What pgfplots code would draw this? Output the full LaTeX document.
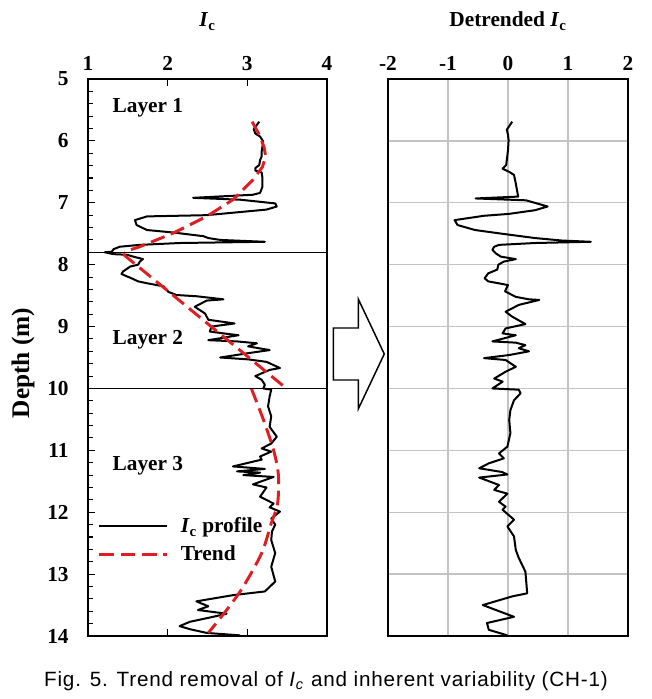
\documentclass[border=0pt]{standalone}
\usepackage{pgfplots}
\pgfplotsset{compat=1.18}
\usepackage{fontspec}
\setmainfont{Liberation Serif}
\newfontfamily\capfont[LetterSpace=4]{Liberation Sans}
\definecolor{trendred}{RGB}{222,30,35}
\definecolor{gridgray}{RGB}{195,195,195}
\newcommand\f{\fontsize{16pt}{19pt}\selectfont\bfseries}
\begin{document}
\begin{tikzpicture}
\useasboundingbox (0,0) rectangle (489pt,524.25pt);
\begin{axis}[
  name=left,
  at={(66pt,47.25pt)}, anchor=south west,
  scale only axis, width=179.25pt, height=417.75pt,
  xmin=1, xmax=4, ymin=5, ymax=14, y dir=reverse,
  xtick={1,2,3,4}, ytick={5,6,...,14},
  minor y tick num=4,
  xticklabel pos=upper, ytick pos=left,
  tick align=inside,
  major tick length=5pt, minor tick length=4pt,
  axis line style={line width=0.9pt},
  every tick/.style={black, line width=0.8pt},
  tick label style={font=\f},
  /pgf/number format/assume math mode=true,
  xticklabel style={yshift=3pt},
  yticklabel style={xshift=-11pt},
  legend style={at={(0.04,0.172)}, anchor=west, draw=none, fill=none, font=\f, row sep=4pt, inner sep=0pt,
    /tikz/every odd column/.append style={column sep=7pt}},
  legend cell align=left,
  legend image code/.code={\draw[#1] (0pt,0pt) -- (51pt,0pt);},
]
\addplot[black, line width=1.5pt, line join=round] coordinates {
(3.15,5.69) (3.12,5.74) (3.08,5.81) (3.10,5.88) (3.16,5.93) (3.20,6.01) (3.19,6.09) (3.18,6.17) (3.18,6.25) (3.16,6.31) (3.15,6.39) (3.10,6.44) (3.10,6.48) (3.18,6.51) (3.19,6.60) (3.19,6.74) (3.16,6.84) (3.07,6.87) (2.32,6.92) (2.91,6.95) (3.35,7.01) (3.37,7.06) (3.24,7.11) (2.49,7.20) (1.74,7.22) (1.59,7.28) (1.61,7.36) (1.74,7.44) (2.07,7.48) (2.45,7.54) (2.51,7.57) (2.66,7.60) (3.22,7.63) (2.15,7.65) (1.65,7.68) (1.40,7.71) (1.32,7.75) (1.30,7.79) (1.21,7.80) (1.32,7.83) (1.49,7.84) (1.57,7.87) (1.69,7.91) (1.65,7.95) (1.63,8.00) (1.53,8.03) (1.44,8.11) (1.42,8.15) (1.49,8.19) (1.53,8.21) (1.63,8.27) (1.74,8.30) (1.95,8.35) (2.01,8.44) (2.11,8.49) (2.36,8.51) (2.70,8.56) (2.49,8.58) (2.34,8.68) (2.47,8.79) (2.51,8.89) (2.84,8.95) (2.55,9.00) (2.53,9.08) (2.70,9.11) (2.89,9.14) (2.51,9.22) (2.87,9.24) (3.12,9.27) (3.01,9.32) (3.28,9.38) (3.01,9.43) (2.66,9.50) (3.01,9.53) (3.24,9.57) (3.41,9.67) (3.28,9.70) (3.10,9.80) (3.18,9.86) (3.22,9.94) (3.20,10.00) (3.30,10.02) (3.28,10.13) (3.26,10.29) (3.30,10.45) (3.28,10.62) (3.37,10.78) (3.30,10.89) (3.18,10.97) (3.30,11.02) (3.16,11.10) (3.18,11.15) (2.82,11.26) (3.22,11.30) (2.87,11.34) (3.16,11.36) (2.95,11.40) (3.33,11.43) (3.07,11.55) (3.24,11.60) (3.16,11.75) (3.33,11.86) (3.28,11.92) (3.41,11.99) (3.30,12.10) (3.35,12.20) (3.31,12.31) (3.30,12.45) (3.35,12.66) (3.30,12.88) (3.35,13.12) (3.22,13.28) (2.82,13.34) (2.36,13.44) (2.51,13.52) (2.38,13.58) (2.74,13.64) (2.57,13.69) (2.28,13.77) (2.15,13.84) (2.28,13.89) (2.49,13.95) (2.91,13.99)
};
\addlegendentry{\textit{I}\textsubscript{c} profile}
\addplot[trendred, line width=2.2pt, dash pattern=on 11pt off 5pt] coordinates {
(3.06,5.69) (3.15,5.90) (3.21,6.10) (3.23,6.25) (3.19,6.42) (3.07,6.63) (2.82,6.95) (2.49,7.22) (2.07,7.49) (1.65,7.71) (1.46,7.79)
};
\addlegendentry{Trend}
\addplot[trendred, line width=2.2pt, dash pattern=on 11pt off 5pt, forget plot] coordinates {
(1.44,7.83) (2.14,8.57) (3.49,10.0)
};
\addplot[trendred, line width=2.2pt, dash pattern=on 11pt off 5pt, forget plot, smooth] coordinates {
(3.05,10.0) (3.20,10.5) (3.33,11.0) (3.39,11.4) (3.38,11.86) (3.30,12.18) (3.18,12.66) (2.95,13.20) (2.74,13.58) (2.51,13.95)
};
\addplot[black, line width=0.8pt, forget plot] coordinates {(1,7.8) (4,7.8)};
\addplot[black, line width=0.8pt, forget plot] coordinates {(1,10.0) (4,10.0)};
\node[font=\f, anchor=base west] at (axis cs:1.25,5.545) {Layer 1};
\node[font=\f, anchor=base west] at (axis cs:1.25,9.286) {Layer 2};
\node[font=\f, anchor=base west] at (axis cs:1.25,11.33) {Layer 3};
\end{axis}
\begin{axis}[
  at={(291pt,47.25pt)}, anchor=south west,
  scale only axis, width=180pt, height=417.75pt,
  xmin=-2, xmax=2, ymin=5, ymax=14, y dir=reverse,
  xtick={-2,-1,0,1,2}, xticklabels={-2,-1,0,1,2},
  ytick={5,6,...,14}, yticklabels={},
  xticklabel pos=upper,
  major tick length=0pt,
  grid=major,
  grid style={gridgray, line width=1pt},
  axis line style={line width=0.9pt},
  tick label style={font=\f},
  xticklabel style={yshift=3pt},
]
\addplot[black, line width=1.5pt, line join=round] coordinates {
(0.07,5.69) (-0.02,5.82) (0.00,5.90) (0.01,5.99) (0.00,6.15) (-0.02,6.31) (-0.03,6.39) (-0.09,6.45) (0.02,6.50) (0.10,6.55) (0.13,6.69) (0.16,6.85) (0.17,6.90) (-0.54,6.93) (0.30,6.96) (0.66,7.06) (0.45,7.12) (0.01,7.18) (-0.40,7.21) (-0.89,7.28) (-0.84,7.36) (-0.55,7.44) (-0.10,7.50) (0.45,7.57) (0.90,7.61) (1.38,7.63) (0.45,7.65) (-0.15,7.68) (-0.23,7.71) (-0.26,7.76) (-0.20,7.82) (-0.12,7.87) (0.13,7.91) (-0.07,7.95) (-0.16,8.00) (-0.18,8.08) (-0.33,8.14) (-0.39,8.22) (-0.33,8.27) (-0.16,8.30) (0.00,8.33) (-0.05,8.43) (0.13,8.52) (0.35,8.56) (0.52,8.57) (0.18,8.65) (-0.04,8.76) (0.07,8.84) (0.29,8.96) (-0.04,9.03) (-0.09,9.11) (0.13,9.14) (-0.26,9.24) (0.13,9.26) (0.29,9.30) (0.18,9.35) (0.35,9.40) (0.02,9.46) (-0.40,9.51) (-0.04,9.54) (0.13,9.65) (-0.04,9.73) (-0.23,9.84) (-0.09,9.89) (-0.26,10.00) (0.18,10.02) (0.21,10.08) (0.10,10.19) (0.04,10.35) (0.02,10.51) (0.04,10.72) (-0.01,10.94) (-0.15,11.05) (-0.07,11.13) (-0.32,11.21) (-0.48,11.29) (-0.10,11.35) (-0.01,11.39) (-0.48,11.44) (-0.15,11.56) (-0.23,11.64) (-0.01,11.70) (-0.15,11.83) (-0.04,11.91) (-0.09,11.96) (0.10,12.12) (-0.01,12.23) (0.10,12.39) (0.13,12.61) (0.18,12.74) (0.29,12.96) (0.32,13.31) (0.07,13.36) (-0.42,13.50) (0.10,13.69) (-0.35,13.79) (-0.32,13.90) (-0.01,13.99)
};
\end{axis}
% decorative block arrow between the panels
\draw[line width=1.1pt, line join=miter] (250pt,278.25pt) -- (268.7pt,278.25pt) -- (268.7pt,300pt) -- (288.2pt,258.75pt) -- (268.7pt,217.5pt) -- (268.7pt,239.25pt) -- (250pt,239.25pt) -- cycle;
% titles
\node[font=\f, anchor=base] at (155.6pt,504pt) {\textit{I}\textsubscript{c}};
\node[font=\f, anchor=base] at (381pt,504pt) {Detrended \textit{I}\textsubscript{c}};
\node[font=\fontsize{19pt}{22pt}\selectfont\bfseries, rotate=90] at (17.25pt,252pt) {Depth (m)};
\node[font=\capfont\fontsize{15.5pt}{18pt}\selectfont, anchor=base] at (244.5pt,9.5pt) {Fig. 5. Trend removal of \textit{I}\textsubscript{\textit{c}} and inherent variability (CH-1)};
\end{tikzpicture}
\end{document}
